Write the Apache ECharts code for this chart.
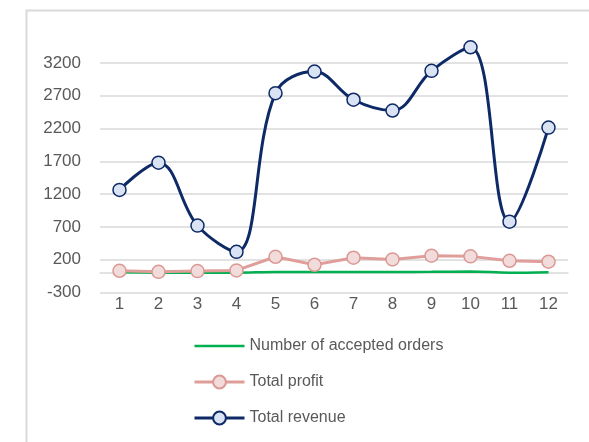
<!DOCTYPE html>
<html>
<head>
<meta charset="utf-8">
<script src="https://cdn.jsdelivr.net/npm/echarts@6/dist/echarts.min.js"></script>
<style>html,body{margin:0;padding:0;background:#fff}#c{width:589px;height:442px}</style>
</head>
<body>
<div id="c"></div>
<script>
const categories = ['1','2','3','4','5','6','7','8','9','10','11','12'];
const acceptedOrders = [8, 3, 3, 3, 14, 14, 14, 14, 15, 20, 2, 10];
const totalProfit = [31, 15, 26, 37, 245, 123, 230, 205, 261, 251, 184, 169];
const totalRevenue = [1265, 1680, 720, 320, 2740, 3070, 2640, 2475, 3080, 3440, 780, 2215];
const yTicks = { min: -300, max: 3200, interval: 500 };

const chart = echarts.init(document.getElementById('c'), null, { renderer: 'canvas' });
const font = 'Liberation Sans';
chart.setOption({
  backgroundColor: '#ffffff',
  animation: false,
  textStyle: { fontFamily: font },
  graphic: [{
    type: 'rect', left: 24, top: 8, silent: true,
    shape: { width: 620, height: 480 },
    style: { fill: 'none', stroke: '#d9d9d9', lineWidth: 2 }
  }],
  grid: { left: 100, top: 63, width: 468, height: 229.5 },
  xAxis: [{
    type: 'category', data: categories, boundaryGap: true,
    axisLine: { show: false, onZero: false },
    axisTick: { show: false },
    axisLabel: { color: '#595959', fontSize: 17, margin: 3, fontFamily: font },
    splitLine: { show: false }
  }, {
    type: 'category', data: categories, boundaryGap: true, position: 'bottom',
    axisLine: { show: true, onZero: true, lineStyle: { color: '#d9d9d9', width: 1.5 } },
    axisTick: { show: false }, axisLabel: { show: false }
  }],
  yAxis: {
    type: 'value', min: yTicks.min, max: yTicks.max, interval: yTicks.interval,
    axisLine: { show: false }, axisTick: { show: false },
    axisLabel: { color: '#595959', fontSize: 17, margin: 19, fontFamily: font,
      formatter: function (v) { return String(v); } },
    splitLine: { lineStyle: { color: '#d9d9d9', width: 1.5 } }
  },
  legend: {
    orient: 'vertical', left: 188, top: 333,
    itemWidth: 50, itemHeight: 16, itemGap: 20,
    textStyle: { color: '#595959', fontSize: 16, fontFamily: font },
    data: [
      { name: 'Number of accepted orders', itemStyle: { opacity: 0 }, lineStyle: { width: 2.5, color: '#00b050' } },
      { name: 'Total profit', lineStyle: { width: 3, color: '#e09e9a' } },
      { name: 'Total revenue', lineStyle: { width: 3, color: '#0e2a66' } }
    ]
  },
  series: [{
    name: 'Number of accepted orders', type: 'line', data: acceptedOrders,
    smooth: 0.35, showSymbol: false, symbol: 'none',
    lineStyle: { color: '#00b050', width: 2.5 }, itemStyle: { color: '#00b050' }
  }, {
    name: 'Total profit', type: 'line', data: totalProfit,
    smooth: false, symbol: 'circle', symbolSize: 13,
    lineStyle: { color: '#e09e9a', width: 3 },
    itemStyle: { color: '#f2dcdb', borderColor: '#db9995', borderWidth: 1.5 }
  }, {
    name: 'Total revenue', type: 'line', data: totalRevenue, clip: false,
    smooth: 0.38, symbol: 'circle', symbolSize: 13,
    lineStyle: { color: '#0e2a66', width: 3 },
    itemStyle: { color: '#dae3f3', borderColor: '#0e2a66', borderWidth: 1.5 }
  }]
});
</script>
</body>
</html>
